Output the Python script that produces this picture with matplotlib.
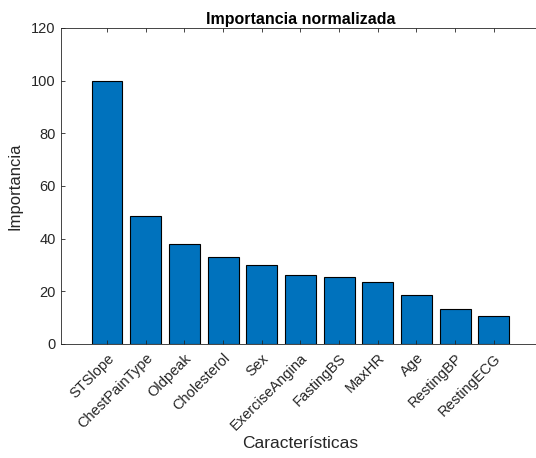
import numpy as np
import matplotlib.pyplot as plt

plt.rcParams['font.family'] = ['Liberation Sans', 'DejaVu Sans']

caracteristicas = ["STSlope", "ChestPainType", "Oldpeak", "Cholesterol", "Sex",
                   "ExerciseAngina", "FastingBS", "MaxHR", "Age", "RestingBP", "RestingECG"]
importancia = [100, 48.6, 38.1, 32.9, 29.9, 26.2, 25.3, 23.7, 18.6, 13.2, 10.6]

gris = "#262626"
fig = plt.figure(figsize=(5.36, 4.58), dpi=100)
ax = fig.add_axes([0.113, 0.249, 0.895, 0.690])

x = np.arange(1, len(importancia) + 1)
ax.bar(x, importancia, width=0.8, color="#0072BD", edgecolor="black", linewidth=0.8)

ax.set_xlim(-0.2, 12.2)
ax.set_ylim(0, 120)
ax.set_xticks(x)
ax.set_xticklabels(caracteristicas, rotation=45, ha="right", rotation_mode="anchor")
ax.set_yticks(np.arange(0, 121, 20))
ax.tick_params(direction="in", length=3, top=True, right=True, colors=gris,
               labelsize=10.5, width=0.6)
ax.tick_params(axis="x", pad=5)
for s in ax.spines.values():
    s.set_color(gris)
    s.set_linewidth(0.6)

ax.set_title("Importancia normalizada", fontsize=11.5, fontweight="bold", color="black", pad=3)
ax.set_ylabel("Importancia", fontsize=12, color=gris, labelpad=6)
ax.set_xlabel("Características", fontsize=12.5, color=gris, labelpad=2)

fig.savefig("out.png", dpi=100)
